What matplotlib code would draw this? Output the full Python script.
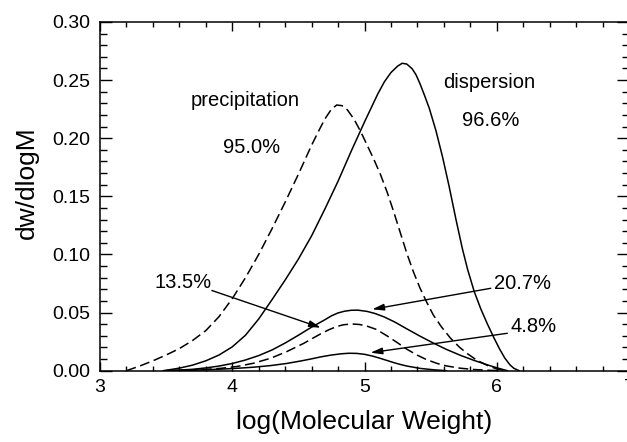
import matplotlib
matplotlib.use("Agg")
import matplotlib.pyplot as plt
from matplotlib.ticker import MultipleLocator

plt.rcParams['font.family'] = ['Liberation Sans', 'DejaVu Sans']

# --- data ---
# precipitation, total (dashed, 95.0%)
prec_x = [3.20, 3.30, 3.40, 3.50, 3.60, 3.70, 3.80, 3.90, 4.00, 4.10, 4.20, 4.30,
          4.40, 4.50, 4.60, 4.65, 4.70, 4.75, 4.79, 4.83, 4.87, 4.92, 4.97, 5.02,
          5.07, 5.12, 5.17, 5.22, 5.27, 5.32, 5.37, 5.42, 5.47, 5.52, 5.58, 5.65,
          5.72, 5.78, 5.85, 5.93, 6.00, 6.08]
prec_y = [0.000, 0.004, 0.0085, 0.0135, 0.019, 0.026, 0.0345, 0.0465, 0.062, 0.080,
          0.100, 0.122, 0.145, 0.169, 0.194, 0.2055, 0.2165, 0.2250, 0.2286, 0.2280,
          0.2245, 0.2165, 0.2060, 0.194, 0.182, 0.169, 0.154, 0.137, 0.119, 0.101,
          0.085, 0.071, 0.059, 0.048, 0.038, 0.028, 0.020, 0.0145, 0.009, 0.0045,
          0.0015, 0.000]

# dispersion, total (solid, 96.6%)
disp_x = [3.48, 3.60, 3.70, 3.80, 3.90, 4.00, 4.10, 4.20, 4.30, 4.40, 4.50, 4.60,
          4.70, 4.80, 4.90, 5.00, 5.10, 5.15, 5.20, 5.25, 5.285, 5.32, 5.36, 5.39,
          5.42, 5.455, 5.49, 5.54, 5.59, 5.64, 5.69, 5.74, 5.78, 5.83, 5.88, 5.93,
          5.98, 6.02, 6.06, 6.10, 6.13, 6.17]
disp_y = [0.000, 0.0022, 0.0048, 0.0085, 0.0135, 0.0205, 0.0305, 0.0445, 0.061, 0.078,
          0.096, 0.116, 0.139, 0.163, 0.189, 0.214, 0.238, 0.2485, 0.2565, 0.2620,
          0.2645, 0.2638, 0.2598, 0.2545, 0.2468, 0.2365, 0.2257, 0.2066, 0.1840, 0.1585,
          0.131, 0.105, 0.087, 0.068, 0.053, 0.040, 0.028, 0.019, 0.011, 0.005,
          0.002, 0.000]

# dispersion fraction (solid, 20.7%)
d207_x = [3.48, 3.60, 3.70, 3.80, 3.90, 4.00, 4.10, 4.20, 4.30, 4.40, 4.50, 4.60,
          4.70, 4.75, 4.80, 4.85, 4.90, 4.95, 5.02, 5.08, 5.15, 5.23, 5.32, 5.42,
          5.52, 5.62, 5.73, 5.83, 5.93, 6.00, 6.08]
d207_y = [0.000, 0.0005, 0.0012, 0.0024, 0.004, 0.0062, 0.0092, 0.013, 0.0178, 0.0238,
          0.0305, 0.0375, 0.0438, 0.0472, 0.0497, 0.0512, 0.0520, 0.0521, 0.0510, 0.0492,
          0.0462, 0.0418, 0.0360, 0.0297, 0.0238, 0.0183, 0.0130, 0.0088, 0.0050, 0.0025,
          0.000]

# precipitation fraction (dashed, 13.5%)
p135_x = [3.55, 3.75, 3.91, 4.04, 4.16, 4.29, 4.41, 4.54, 4.61, 4.67, 4.73, 4.79,
          4.84, 4.90, 4.96, 5.02, 5.09, 5.17, 5.25, 5.32, 5.40, 5.47, 5.55, 5.62,
          5.72, 5.83, 5.95, 6.05]
p135_y = [0.000, 0.0008, 0.002, 0.0037, 0.0064, 0.0107, 0.0163, 0.0235, 0.0280, 0.0318,
          0.0352, 0.0380, 0.0395, 0.0402, 0.0398, 0.0383, 0.0355, 0.0300, 0.0240, 0.0185,
          0.0133, 0.0095, 0.0062, 0.0041, 0.0022, 0.0010, 0.0003, 0.000]

# small fraction (solid, 4.8%)
s48_x = [3.50, 3.80, 4.00, 4.16, 4.29, 4.41, 4.52, 4.60, 4.67, 4.74, 4.82, 4.88,
         4.94, 5.00, 5.06, 5.12, 5.17, 5.22, 5.27, 5.32, 5.42, 5.52, 5.62]
s48_y = [0.000, 0.0008, 0.0018, 0.0030, 0.0044, 0.0062, 0.0084, 0.0102, 0.0119, 0.0133,
         0.0145, 0.0150, 0.0149, 0.0141, 0.0126, 0.0106, 0.0088, 0.0070, 0.0054, 0.0040,
         0.0020, 0.0008, 0.000]

x_ticks = [3, 4, 5, 6, 7]
y_ticks = [0.00, 0.05, 0.10, 0.15, 0.20, 0.25, 0.30]

W, H = 627, 442
fig = plt.figure(figsize=(W / 100, H / 100), dpi=100)
ax = fig.add_axes([100 / W, (H - 370.7) / H, 529 / W, 348.7 / H])

lw = 1.1
ax.plot(prec_x, prec_y, color='black', lw=lw, ls=(0, (6.5, 3)))
ax.plot(disp_x, disp_y, color='black', lw=lw)
ax.plot(d207_x, d207_y, color='black', lw=lw)
ax.plot(p135_x, p135_y, color='black', lw=lw, ls=(0, (6.5, 3)))
ax.plot(s48_x, s48_y, color='black', lw=lw)

ax.set_xlim(3, 7)
ax.set_ylim(0, 0.30)
ax.set_xticks(x_ticks)
ax.set_xticklabels([str(t) for t in x_ticks])
ax.set_yticks(y_ticks)
ax.set_yticklabels([f"{t:.2f}" for t in y_ticks])
ax.xaxis.set_minor_locator(MultipleLocator(0.2))
ax.yaxis.set_minor_locator(MultipleLocator(0.01))

ax.tick_params(axis='both', which='both', direction='in', top=True, right=True,
               width=1.0, labelsize=14)
ax.tick_params(axis='x', which='major', length=6.5, pad=6)
ax.tick_params(axis='x', which='minor', length=3.6)
ax.tick_params(axis='y', which='major', length=8.4, pad=7)
ax.tick_params(axis='y', which='minor', length=4.8)
for s in ax.spines.values():
    s.set_linewidth(1.1)

ax.set_xlabel('log(Molecular Weight)', fontsize=19, labelpad=10)
ax.set_ylabel('dw/dlogM', fontsize=19)
ax.yaxis.set_label_coords(-0.116, 0.54)

fs = 14.5
ax.text(4.098, 0.2328, 'precipitation', fontsize=fs, ha='center', va='center')
ax.text(4.144, 0.1924, '95.0%', fontsize=fs, ha='center', va='center')
ax.text(5.943, 0.2478, 'dispersion', fontsize=fs, ha='center', va='center')
ax.text(5.955, 0.215, '96.6%', fontsize=fs, ha='center', va='center')
ax.text(3.625, 0.0763, '13.5%', fontsize=fs, ha='center', va='center')
ax.text(6.195, 0.0754, '20.7%', fontsize=fs, ha='center', va='center')
ax.text(6.277, 0.0376, '4.8%', fontsize=fs, ha='center', va='center')

arrow = dict(arrowstyle='-|>,head_length=0.5,head_width=0.14', color='black',
             lw=1.0, shrinkA=0, shrinkB=0, mutation_scale=14)
ax.annotate('', xy=(4.67, 0.037), xytext=(3.846, 0.0690), arrowprops=arrow)
ax.annotate('', xy=(5.058, 0.0528), xytext=(5.955, 0.0709), arrowprops=arrow)
ax.annotate('', xy=(5.045, 0.0155), xytext=(6.08, 0.0322), arrowprops=arrow)

fig.savefig('out.png', dpi=100)
